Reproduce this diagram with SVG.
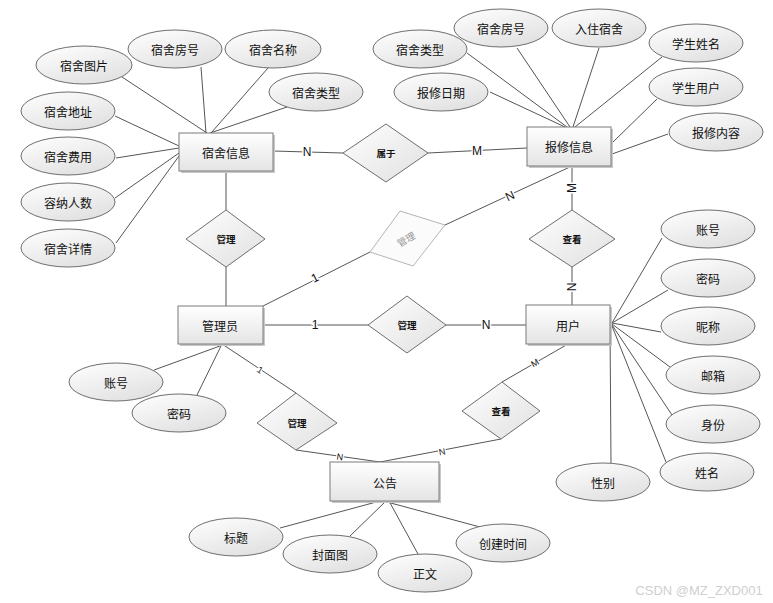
<svg xmlns="http://www.w3.org/2000/svg" width="773" height="603" viewBox="0 0 773 603">
<defs>
<linearGradient id="gEnt" x1="0" y1="0" x2="0" y2="1"><stop offset="0" stop-color="#ffffff"/><stop offset="1" stop-color="#e4e4e4"/></linearGradient>
<linearGradient id="gAttr" x1="0" y1="0" x2="0.6" y2="1"><stop offset="0" stop-color="#ffffff"/><stop offset="1" stop-color="#e2e2e2"/></linearGradient>
<linearGradient id="gRel" x1="0" y1="0" x2="1" y2="1"><stop offset="0" stop-color="#ffffff"/><stop offset="1" stop-color="#e0e0e0"/></linearGradient>
<style>
.ent .sh{fill:#c8c8c8;stroke:none}
.ent .bx{fill:url(#gEnt);stroke:#7a7a7a;stroke-width:1}
.attr ellipse{fill:url(#gAttr);stroke:#6e6e6e;stroke-width:1}
.rel polygon{fill:url(#gRel);stroke:#6e6e6e;stroke-width:1}
.faded polygon{fill:#fbfbfb;stroke:#b4b4b4;stroke-width:1}
text{font-family:"Noto Sans CJK SC","Noto Sans",sans-serif;font-size:12px;fill:#111;text-anchor:middle;dominant-baseline:central}
.rt{font-size:9.5px;font-weight:bold}
.faded text{fill:#999;font-weight:normal}
#edges line{stroke:#555;stroke-width:1}
.lb{font-family:"Liberation Sans",Arial,sans-serif;font-size:12px;stroke:#fff;stroke-width:3;paint-order:stroke;fill:#111}
.lbs{font-family:"Liberation Sans",Arial,sans-serif;font-size:9px;stroke:#fff;stroke-width:2.5;paint-order:stroke;fill:#111}
.wm{font-family:"Liberation Sans",Arial,sans-serif;font-size:13px;fill:#cfcfcf}
</style>
</defs>
<rect width="773" height="603" fill="#fff"/>
<g id="edges">
<line x1="207" y1="133" x2="122" y2="77"/>
<line x1="206" y1="133" x2="201" y2="67"/>
<line x1="211" y1="133" x2="268" y2="68"/>
<line x1="210" y1="133" x2="287" y2="107"/>
<line x1="179" y1="146" x2="115" y2="116"/>
<line x1="179" y1="148" x2="116" y2="158"/>
<line x1="179" y1="153" x2="115" y2="198"/>
<line x1="179" y1="156" x2="116" y2="243"/>
<line x1="273" y1="151" x2="343" y2="153"/>
<line x1="428" y1="153" x2="527" y2="148"/>
<line x1="226" y1="172" x2="226" y2="210"/>
<line x1="226" y1="267" x2="226" y2="306"/>
<line x1="263" y1="306" x2="370" y2="252"/>
<line x1="445" y1="225" x2="572" y2="166"/>
<line x1="572" y1="166" x2="572" y2="210"/>
<line x1="572" y1="267" x2="572" y2="305"/>
<line x1="263" y1="325" x2="368" y2="325"/>
<line x1="446" y1="325" x2="526" y2="325"/>
<line x1="222" y1="344" x2="296" y2="393"/>
<line x1="296" y1="450" x2="387" y2="463"/>
<line x1="568" y1="344" x2="502" y2="382"/>
<line x1="501" y1="439" x2="380" y2="462"/>
<line x1="467" y1="53" x2="567" y2="127"/>
<line x1="517" y1="48" x2="570" y2="127"/>
<line x1="599" y1="48" x2="573" y2="127"/>
<line x1="662" y1="57" x2="575" y2="127"/>
<line x1="490" y1="92" x2="565" y2="127"/>
<line x1="657" y1="99" x2="612" y2="143"/>
<line x1="668" y1="134" x2="612" y2="154"/>
<line x1="662" y1="238" x2="612" y2="323"/>
<line x1="668" y1="290" x2="612" y2="323"/>
<line x1="661" y1="332" x2="612" y2="323"/>
<line x1="670" y1="367" x2="612" y2="324"/>
<line x1="672" y1="415" x2="612" y2="325"/>
<line x1="666" y1="462" x2="612" y2="326"/>
<line x1="610" y1="325" x2="611" y2="463"/>
<line x1="154" y1="370" x2="220" y2="346"/>
<line x1="197" y1="395" x2="221" y2="346"/>
<line x1="280" y1="528" x2="380" y2="501"/>
<line x1="350" y1="536" x2="385" y2="502"/>
<line x1="418" y1="554" x2="389" y2="501"/>
<line x1="480" y1="527" x2="387" y2="502"/>
<text class="lb" x="307" y="152">N</text>
<text class="lb" x="477" y="151">M</text>
<text class="lb" x="315" y="325">1</text>
<text class="lb" x="486" y="325">N</text>
<text class="lb" transform="translate(572,188) rotate(-90)">M</text>
<text class="lb" transform="translate(572,287) rotate(-90)">N</text>
<text class="lb" transform="translate(315,278) rotate(-27)">1</text>
<text class="lb" transform="translate(510,196) rotate(-25)">N</text>
<text class="lbs" transform="translate(260,370) rotate(33)">1</text>
<text class="lbs" transform="translate(340,457) rotate(8)">N</text>
<text class="lbs" transform="translate(535,363) rotate(-30)">M</text>
<text class="lbs" transform="translate(442,452) rotate(-11)">N</text>
</g>
<g id="e-sushe" class="ent"><rect class="sh" x="181" y="135" width="94" height="38"/><rect class="bx" x="179" y="133" width="94" height="38"/><text x="226" y="152">宿舍信息</text></g>
<g id="e-baoxiu" class="ent"><rect class="sh" x="529" y="129" width="84" height="39"/><rect class="bx" x="527" y="127" width="84" height="39"/><text x="569" y="146">报修信息</text></g>
<g id="e-admin" class="ent"><rect class="sh" x="180" y="308" width="85" height="38"/><rect class="bx" x="178" y="306" width="85" height="38"/><text x="220" y="325">管理员</text></g>
<g id="e-user" class="ent"><rect class="sh" x="528" y="307" width="84" height="39"/><rect class="bx" x="526" y="305" width="84" height="39"/><text x="568" y="325">用户</text></g>
<g id="e-notice" class="ent"><rect class="sh" x="332" y="464" width="109" height="39"/><rect class="bx" x="330" y="462" width="109" height="39"/><text x="385" y="482">公告</text></g>
<g id="r-shuyu" class="rel"><polygon points="386,124 428,153 386,182 343,153"/><text class="rt" x="386" y="153">属于</text></g>
<g id="r-guanli1" class="rel"><polygon points="226,210 265,239 226,267 186,239"/><text class="rt" x="226" y="239">管理</text></g>
<g id="r-guanli2" class="faded"><polygon points="400,211 445,225 413,266 370,252"/><text class="rt" transform="translate(406,239) rotate(-30)">管理</text></g>
<g id="r-chakan1" class="rel"><polygon points="572,210 615,239 572,267 529,239"/><text class="rt" x="572" y="239">查看</text></g>
<g id="r-guanli3" class="rel"><polygon points="407,296 446,325 407,353 368,325"/><text class="rt" x="407" y="325">管理</text></g>
<g id="r-guanli4" class="rel"><polygon points="296,393 337,423 296,450 257,423"/><text class="rt" x="297" y="423">管理</text></g>
<g id="r-chakan2" class="rel"><polygon points="502,382 540,411 501,439 462,411"/><text class="rt" x="501" y="411">查看</text></g>
<g id="a-tupian" class="attr"><ellipse cx="84" cy="65" rx="48" ry="19"/><text x="84" y="65">宿舍图片</text></g>
<g id="a-fanghao1" class="attr"><ellipse cx="175" cy="49" rx="47" ry="19"/><text x="175" y="49">宿舍房号</text></g>
<g id="a-mingcheng" class="attr"><ellipse cx="273" cy="49" rx="48" ry="19"/><text x="273" y="49">宿舍名称</text></g>
<g id="a-leixing1" class="attr"><ellipse cx="316" cy="92" rx="47" ry="19"/><text x="316" y="92">宿舍类型</text></g>
<g id="a-dizhi" class="attr"><ellipse cx="68" cy="111" rx="47" ry="19"/><text x="68" y="111">宿舍地址</text></g>
<g id="a-feiyong" class="attr"><ellipse cx="68" cy="156" rx="47" ry="19"/><text x="68" y="156">宿舍费用</text></g>
<g id="a-renshu" class="attr"><ellipse cx="68" cy="202" rx="47" ry="19"/><text x="68" y="202">容纳人数</text></g>
<g id="a-xiangqing" class="attr"><ellipse cx="68" cy="248" rx="47" ry="19"/><text x="68" y="248">宿舍详情</text></g>
<g id="a-leixing2" class="attr"><ellipse cx="420" cy="49" rx="47" ry="19"/><text x="420" y="49">宿舍类型</text></g>
<g id="a-fanghao2" class="attr"><ellipse cx="501" cy="28" rx="47" ry="19"/><text x="501" y="28">宿舍房号</text></g>
<g id="a-ruzhu" class="attr"><ellipse cx="599" cy="28" rx="47" ry="19"/><text x="599" y="28">入住宿舍</text></g>
<g id="a-xingming1" class="attr"><ellipse cx="696" cy="43" rx="47" ry="19"/><text x="696" y="43">学生姓名</text></g>
<g id="a-yonghu" class="attr"><ellipse cx="696" cy="87" rx="47" ry="19"/><text x="696" y="87">学生用户</text></g>
<g id="a-neirong" class="attr"><ellipse cx="716" cy="132" rx="47" ry="19"/><text x="716" y="132">报修内容</text></g>
<g id="a-riqi" class="attr"><ellipse cx="441" cy="92" rx="47" ry="19"/><text x="441" y="92">报修日期</text></g>
<g id="a-zhanghao1" class="attr"><ellipse cx="708" cy="229" rx="47" ry="19"/><text x="708" y="229">账号</text></g>
<g id="a-mima1" class="attr"><ellipse cx="708" cy="278" rx="47" ry="19"/><text x="708" y="278">密码</text></g>
<g id="a-nicheng" class="attr"><ellipse cx="708" cy="326" rx="47" ry="19"/><text x="708" y="326">昵称</text></g>
<g id="a-youxiang" class="attr"><ellipse cx="713" cy="375" rx="47" ry="19"/><text x="713" y="375">邮箱</text></g>
<g id="a-shenfen" class="attr"><ellipse cx="713" cy="424" rx="47" ry="19"/><text x="713" y="424">身份</text></g>
<g id="a-xingming2" class="attr"><ellipse cx="707" cy="472" rx="47" ry="19"/><text x="707" y="472">姓名</text></g>
<g id="a-xingbie" class="attr"><ellipse cx="603" cy="482" rx="47" ry="19"/><text x="603" y="482">性别</text></g>
<g id="a-zhanghao2" class="attr"><ellipse cx="116" cy="382" rx="47" ry="19"/><text x="116" y="382">账号</text></g>
<g id="a-mima2" class="attr"><ellipse cx="179" cy="413" rx="47" ry="19"/><text x="179" y="413">密码</text></g>
<g id="a-biaoti" class="attr"><ellipse cx="236" cy="537" rx="47" ry="19"/><text x="236" y="537">标题</text></g>
<g id="a-fengmian" class="attr"><ellipse cx="330" cy="554" rx="47" ry="19"/><text x="330" y="554">封面图</text></g>
<g id="a-zhengwen" class="attr"><ellipse cx="425" cy="573" rx="47" ry="19"/><text x="425" y="573">正文</text></g>
<g id="a-shijian" class="attr"><ellipse cx="503" cy="543" rx="47" ry="19"/><text x="503" y="543">创建时间</text></g>
<text class="wm" x="699" y="590">CSDN @MZ_ZXD001</text>
</svg>
